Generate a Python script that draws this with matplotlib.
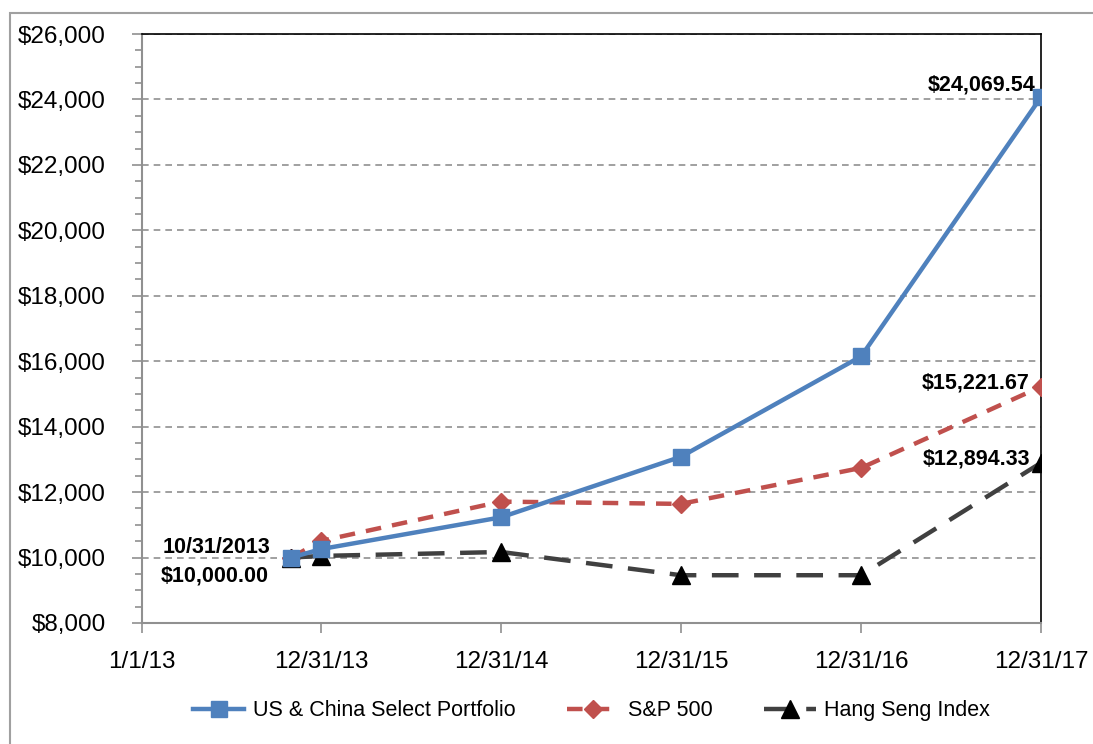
import datetime as dt
import matplotlib
matplotlib.use('Agg')
import matplotlib.pyplot as plt
import matplotlib.dates as mdates
from matplotlib.patches import Rectangle
from matplotlib.ticker import FuncFormatter, MultipleLocator

dates = [dt.date(2013, 10, 31), dt.date(2013, 12, 31), dt.date(2014, 12, 31),
         dt.date(2015, 12, 31), dt.date(2016, 12, 31), dt.date(2017, 12, 31)]
portfolio = [10000, 10260, 11230, 13080, 16150, 24069.54]
sp500 = [10000, 10510, 11710, 11640, 12740, 15221.67]
hang_seng = [10000, 10050, 10170, 9460, 9460, 12894.33]
tick_dates = [dt.date(2013, 1, 1)] + dates[1:]
tick_labels = ['1/1/13', '12/31/13', '12/31/14', '12/31/15', '12/31/16', '12/31/17']

plt.rcParams['font.family'] = ['Liberation Sans', 'DejaVu Sans']

fig = plt.figure(figsize=(10.93, 7.44), dpi=100)
ax = fig.add_axes([142 / 1093, 1 - 623 / 744, (1041 - 142) / 1093, (623 - 34) / 744])

# outer chart border
fig.patches.append(Rectangle((10 / 1093, -0.01), 1.0, 1 - 13 / 744 + 0.01,
                             transform=fig.transFigure, fill=False,
                             edgecolor='#a0a0a0', lw=1.5))

ax.plot(dates, portfolio, '-s', color='#4F81BD', lw=3.2, ms=12,
        label='US & China Select Portfolio', zorder=4)
ax.plot(dates, sp500, '--D', color='#C0504D', lw=3.2, ms=9.5, dashes=(3.5, 2.5),
        label='S&P 500', zorder=3)
ax.plot(dates, hang_seng, '--^', color='#404040', lw=3.2, ms=12.5, dashes=(6, 3.5),
        mfc='black', mec='black', label='Hang Seng Index', zorder=3)

ax.set_xlim(dt.date(2013, 1, 1), dt.date(2017, 12, 31))
ax.set_ylim(8000, 26000)
ax.set_xticks([mdates.date2num(d) for d in tick_dates])
ax.set_xticklabels(tick_labels)
ax.yaxis.set_major_locator(MultipleLocator(2000))
ax.yaxis.set_minor_locator(MultipleLocator(500))
ax.yaxis.set_major_formatter(FuncFormatter(lambda v, p: '${:,.0f}'.format(v)))
ax.grid(axis='y', which='major', color='#909090', ls=(0, (4, 3)), lw=1.2)
ax.set_axisbelow(True)

for s in ['left', 'bottom']:
    ax.spines[s].set_color('#909090')
    ax.spines[s].set_linewidth(1.5)
for s in ['top', 'right']:
    ax.spines[s].set_color('black')
    ax.spines[s].set_linewidth(1.2)

ax.tick_params(axis='y', which='major', length=7, width=1.2, color='#909090',
               labelsize=17.5, pad=19)
ax.tick_params(axis='y', which='minor', length=5, width=1.2, color='#909090')
ax.tick_params(axis='x', which='major', length=7, width=1.2, color='#909090',
               labelsize=17.5, pad=13)

bold = dict(fontsize=15.5, fontweight='bold', ha='right', va='center', color='black')
ax.annotate('$24,069.54', (dates[-1], portfolio[-1]), xytext=(-4, 9),
            textcoords='offset points', **bold)
ax.annotate('$15,221.67', (dates[-1], sp500[-1]), xytext=(-8, 3),
            textcoords='offset points', **bold)
ax.annotate('$12,894.33', (dates[-1], hang_seng[-1]), xytext=(-8, 3),
            textcoords='offset points', **bold)
ax.annotate('10/31/2013', (dates[0], portfolio[0]), xytext=(-15, 7),
            textcoords='offset points', **bold)
ax.annotate('$10,000.00', (dates[0], portfolio[0]), xytext=(-16, -13),
            textcoords='offset points', **bold)

leg = ax.legend(loc='upper center', bbox_to_anchor=(0.5, -0.098), ncol=3,
                frameon=False, fontsize=15.5, handlelength=2.4, columnspacing=2.4,
                handletextpad=0.4)

fig.savefig('out.png', dpi=100)
